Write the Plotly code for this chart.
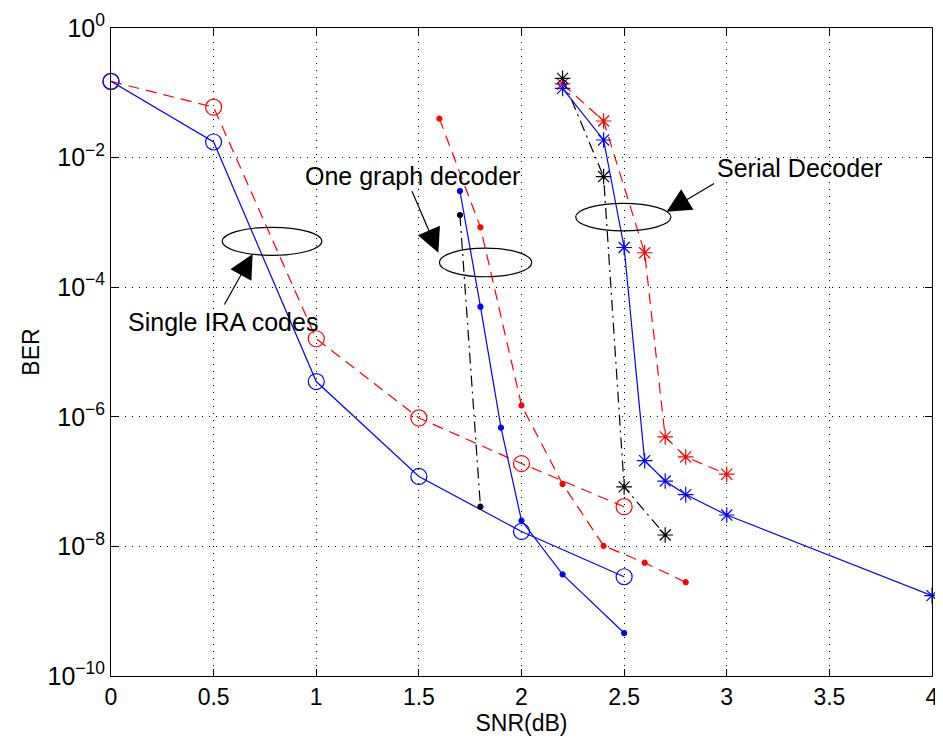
import plotly.graph_objects as go

# ---------------- data ----------------
snr_single = [0, 0.5, 1, 1.5, 2, 2.5]
ber_single_blue = [0.15, 0.0174, 3.5e-6, 1.2e-7, 1.7e-8, 3.4e-9]
ber_single_red = [0.15, 0.06, 1.6e-5, 9.6e-7, 1.9e-7, 4.1e-8]

snr_one_blue = [1.7, 1.8, 1.9, 2.0, 2.2, 2.5]
ber_one_blue = [3.05e-3, 5.0e-5, 6.8e-7, 2.5e-8, 3.7e-9, 4.6e-10]
snr_one_red = [1.6, 1.8, 2.0, 2.2, 2.4, 2.6, 2.8]
ber_one_red = [0.04, 8.4e-4, 1.5e-6, 9.2e-8, 1.02e-8, 5.6e-9, 2.8e-9]
snr_one_black = [1.7, 1.8]
ber_one_black = [1.3e-3, 4.1e-8]

snr_serial_blue = [2.2, 2.4, 2.5, 2.6, 2.7, 2.8, 3.0, 4.0]
ber_serial_blue = [0.117, 0.0187, 4.1e-4, 2.1e-7, 1.02e-7, 6.3e-8, 3.05e-8, 1.74e-9]
snr_serial_red = [2.2, 2.4, 2.6, 2.7, 2.8, 3.0]
ber_serial_red = [0.137, 0.0367, 3.4e-4, 4.9e-7, 2.4e-7, 1.3e-7]
snr_serial_black = [2.2, 2.4, 2.5, 2.7]
ber_serial_black = [0.167, 5.1e-3, 8.3e-8, 1.5e-8]

x_ticks = [0, 0.5, 1, 1.5, 2, 2.5, 3, 3.5, 4]
x_ticklabels = ["0", "0.5", "1", "1.5", "2", "2.5", "3", "3.5", "4"]
y_exponents = [0, -2, -4, -6, -8, -10]

FONT = "Liberation Sans, Arial, Helvetica, sans-serif"
BLUE = "#0000ff"
RED = "#ff0000"
BLACK = "#000000"
DASH = "11px,7px"
DASHDOT = "11px,5px,2px,5px"

fig = go.Figure()


def add(x, y, color, dash, symbol, size):
    fig.add_trace(go.Scatter(
        x=x, y=y, mode="lines+markers", cliponaxis=False,
        line=dict(color=color, width=1.2, dash=dash),
        marker=dict(symbol=symbol, size=size, color=color,
                    line=dict(color=color, width=1.2)),
        showlegend=False))


add(snr_single, ber_single_red, RED, DASH, "circle-open", 16)
add(snr_single, ber_single_blue, BLUE, "solid", "circle-open", 16)
add(snr_one_red, ber_one_red, RED, DASH, "circle", 5)
add(snr_one_black, ber_one_black, BLACK, DASHDOT, "circle", 5)
add(snr_one_blue, ber_one_blue, BLUE, "solid", "circle", 5)
add(snr_serial_red, ber_serial_red, RED, DASH, "asterisk-open", 13)
add(snr_serial_black, ber_serial_black, BLACK, DASHDOT, "asterisk-open", 13)
add(snr_serial_blue, ber_serial_blue, BLUE, "solid", "asterisk-open", 13)

# ellipses (data coordinates)
ellipses = [
    (0.542, 1.027, 3.1e-4, 8.4e-4),
    (1.600, 2.050, 1.45e-4, 4.0e-4),
    (2.264, 2.728, 7.4e-4, 1.97e-3),
]
for x0, x1, y0, y1 in ellipses:
    fig.add_shape(type="circle", xref="x", yref="y", x0=x0, x1=x1, y0=y0, y1=y1,
                  line=dict(color="black", width=1.2))

# texts (annotation y in log10)
texts = [
    ("Single IRA codes", 0.546, -4.537),
    ("One graph decoder", 1.471, -2.284),
    ("Serial Decoder", 3.352, -2.160),
]
for t, x, y in texts:
    fig.add_annotation(x=x, y=y, text=t, showarrow=False,
                       font=dict(family=FONT, size=25, color="black"))

arrows = [
    (0.690, -3.488, -29, 52),
    (1.595, -3.467, -27, -63),
    (2.707, -2.835, 49, -29),
]
for x, y, ax, ay in arrows:
    fig.add_annotation(x=x, y=y, ax=ax, ay=ay, text="", showarrow=True,
                       arrowhead=2, arrowsize=4, arrowwidth=1.2, arrowcolor="black")

# the page body has an 8px margin, so the figure is offset by (8, 8)
fig.update_layout(
    width=935, height=738,
    margin=dict(l=103, r=11, t=20, b=70, autoexpand=False),
    paper_bgcolor="white", plot_bgcolor="white",
    font=dict(family=FONT, size=23, color="black"),
    showlegend=False,
)
fig.update_xaxes(
    range=[0, 4], tickvals=x_ticks, ticktext=x_ticklabels,
    showline=True, linecolor="black", linewidth=1, mirror="ticks",
    ticks="inside", ticklen=7, tickcolor="black",
    showgrid=True, gridcolor="black", gridwidth=1, griddash="1px,6px",
    zeroline=False,
    title=dict(text="SNR(dB)", standoff=5, font=dict(size=23)),
    tickfont=dict(size=23),
)
fig.update_yaxes(
    type="log", range=[-10, 0],
    tickvals=[10.0 ** e for e in y_exponents],
    ticktext=["10<sup>%s</sup>" % (str(e).replace("-", "\u2212")) for e in y_exponents],
    showline=True, linecolor="black", linewidth=1, mirror="ticks",
    ticks="inside", ticklen=7, tickcolor="black",
    showgrid=True, gridcolor="black", gridwidth=1, griddash="1px,6px",
    zeroline=False,
    title=dict(text="BER", standoff=1, font=dict(size=23)),
    tickfont=dict(size=25),
)

fig.write_html("out.html")
